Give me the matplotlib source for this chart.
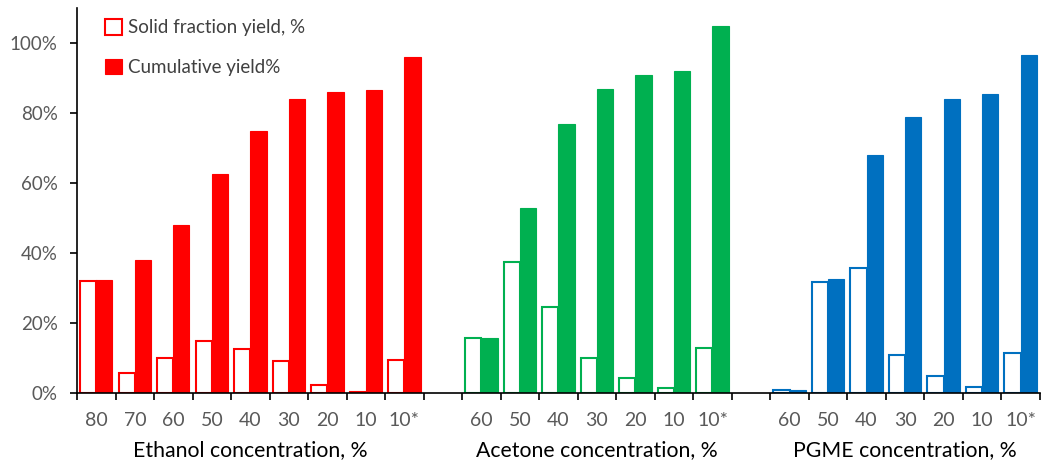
import numpy as np
import matplotlib.pyplot as plt

# groups of solvent concentration
groups = ["Ethanol concentration, %", "Acetone concentration, %", "PGME concentration, %"]
group_colors = ["#FF0000", "#00B050", "#0070C0"]

ethanol_conc = ["80", "70", "60", "50", "40", "30", "20", "10", "10*"]
ethanol_solid = [32.0, 5.7, 10.0, 15.0, 12.6, 9.1, 2.3, 0.3, 9.4]
ethanol_cum = [32.3, 38.0, 48.0, 62.5, 75.0, 84.0, 86.0, 86.5, 96.0]

acetone_conc = ["60", "50", "40", "30", "20", "10", "10*"]
acetone_solid = [15.6, 37.3, 24.5, 9.9, 4.2, 1.3, 12.8]
acetone_cum = [15.8, 53.0, 77.0, 87.0, 91.0, 92.0, 105.0]

pgme_conc = ["60", "50", "40", "30", "20", "10", "10*"]
pgme_solid = [0.8, 31.8, 35.6, 11.0, 5.0, 1.6, 11.3]
pgme_cum = [0.8, 32.5, 68.0, 79.0, 84.0, 85.5, 96.5]

yticks = [0, 20, 40, 60, 80, 100]

font = ["Lato", "DejaVu Sans"]
plt.rcParams["font.family"] = font

fig = plt.figure(figsize=(10.44, 4.71), dpi=100)
ax = fig.add_axes([0.0738, 0.1656, 0.9222, 0.8174])

all_solid = [ethanol_solid, acetone_solid, pgme_solid]
all_cum = [ethanol_cum, acetone_cum, pgme_cum]
all_conc = [ethanol_conc, acetone_conc, pgme_conc]

w = 0.42
start = 0
centers = []
labels = []
for g, (solid, cum, conc, col) in enumerate(zip(all_solid, all_cum, all_conc, group_colors)):
    x = np.arange(len(conc)) + start
    ax.bar(x - w / 2, solid, width=w, facecolor="white", edgecolor=col, linewidth=1.5,
           label="Solid fraction yield, %" if g == 0 else None)
    ax.bar(x + w / 2, cum, width=w, color=col, edgecolor=col, linewidth=0.8,
           label="Cumulative yield%" if g == 0 else None)
    centers += list(x)
    labels += conc
    ax.text(x.mean(), -0.148, groups[g], transform=ax.get_xaxis_transform(),
            ha="center", va="center", fontsize=15.3, color="black")
    start += len(conc) + 1

ax.set_xlim(-0.5, start - 1.5)
ax.set_ylim(0, 110)
ax.set_xticks(centers)
ax.set_xticklabels(labels, fontsize=14, color="#595959")
ax.tick_params(axis="x", which="major", length=0, pad=14)
ax.set_xticks(np.arange(-0.5, start - 1.0, 1.0), minor=True)
ax.tick_params(axis="x", which="minor", length=5, width=1.2, direction="out")

ax.set_yticks(yticks)
ax.set_yticklabels([f"{v}%" for v in yticks], fontsize=13.5, color="#595959")
ax.tick_params(axis="y", length=5, width=1.2, direction="out", pad=9)

for s in ["top", "right"]:
    ax.spines[s].set_visible(False)
for s in ["left", "bottom"]:
    ax.spines[s].set_linewidth(1.2)

leg = ax.legend(loc="upper left", bbox_to_anchor=(0.012, 1.015), frameon=False, fontsize=13.5,
                handlelength=0.9, handleheight=0.9, handletextpad=0.3, labelspacing=1.2)
for t in leg.get_texts():
    t.set_color("#404040")

fig.savefig("out.png", dpi=100)
